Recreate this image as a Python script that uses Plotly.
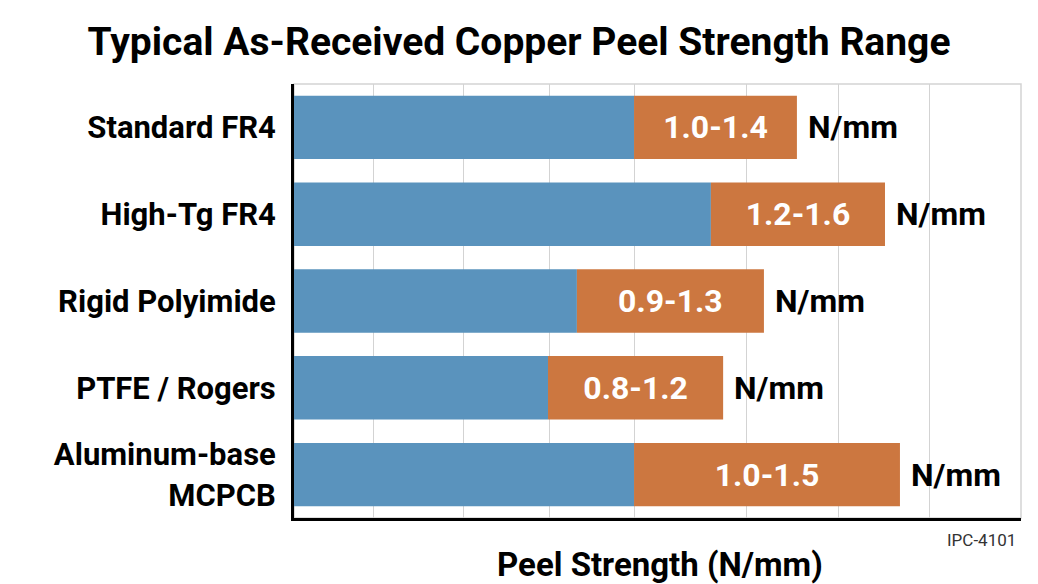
import plotly.graph_objects as go

# Data (units; axis has no numeric tick labels)
materials = ["Standard FR4", "High-Tg FR4", "Rigid Polyimide", "PTFE / Rogers", "Aluminum-base<br>MCPCB"]
range_low = [1.0, 1.226, 0.832, 0.747, 1.0]
range_high = [1.479, 1.738, 1.382, 1.262, 1.782]
range_labels = ["1.0-1.4", "1.2-1.6", "0.9-1.3", "0.8-1.2", "1.0-1.5"]
unit_label = "N/mm"
grid_vals = [0.235, 0.497, 0.75, 1.0, 1.332, 1.6, 1.868]
x_max = 2.138

BLUE = "#5A93BD"
COPPER = "#CC7740"
FONT = "Roboto"

span = [h - l for h, l in zip(range_high, range_low)]

fig = go.Figure()
fig.add_trace(go.Bar(
    y=materials, x=range_low, orientation="h",
    marker=dict(color=BLUE, line=dict(width=0)),
    hoverinfo="skip", showlegend=False,
))
fig.add_trace(go.Bar(
    y=materials, x=span, base=range_low, orientation="h",
    marker=dict(color=COPPER, line=dict(width=0)),
    text=range_labels, textposition="inside", insidetextanchor="middle",
    textfont=dict(family=FONT, size=32, color="white", weight="bold"),
    hoverinfo="skip", showlegend=False,
))

unit_annotations = [
    dict(x=xh, y=m, xref="x", yref="y", text=unit_label, showarrow=False,
         xanchor="left", yanchor="middle", xshift=9,
         font=dict(family=FONT, size=32, color="black", weight="bold"))
    for xh, m in zip(range_high, materials)
]

fig.update_layout(
    width=1038, height=584,
    margin=dict(l=294, r=17, t=84, b=66),
    paper_bgcolor="white", plot_bgcolor="white",
    barmode="overlay", bargap=0.27,
    title=dict(
        text="Typical As-Received Copper Peel Strength Range",
        x=0.5, xanchor="center", y=0.93, yanchor="middle", yref="container",
        font=dict(family=FONT, size=39, color="black", weight="bold"),
    ),
    xaxis=dict(
        range=[0, x_max], tickvals=grid_vals, showticklabels=False,
        showgrid=True, gridcolor="#D3D3D3", gridwidth=1,
        zeroline=False, showline=True, linecolor="black", linewidth=3,
        ticks="",
    ),
    yaxis=dict(
        categoryorder="array", categoryarray=materials, autorange="reversed",
        showgrid=False, zeroline=False, showline=True, linecolor="black", linewidth=3,
        ticks="", ticklabelstandoff=9,
        tickfont=dict(family=FONT, size=31, color="black", weight="bold"),
    ),
    shapes=[dict(type="rect", xref="paper", yref="paper", x0=0, x1=1, y0=0, y1=1,
                 line=dict(color="#D3D3D3", width=1.5), layer="below")],
    annotations=unit_annotations + [
        dict(text="Peel Strength (N/mm)", xref="paper", yref="paper", x=0.503, y=-0.108,
             xanchor="center", yanchor="middle", showarrow=False,
             font=dict(family=FONT, size=33, color="black", weight="bold")),
        dict(text="IPC-4101", xref="paper", yref="paper", x=0.996, y=-0.05,
             xanchor="right", yanchor="middle", showarrow=False,
             font=dict(family=FONT, size=17, color="#333333")),
    ],
)

fig.write_html("out.html")
